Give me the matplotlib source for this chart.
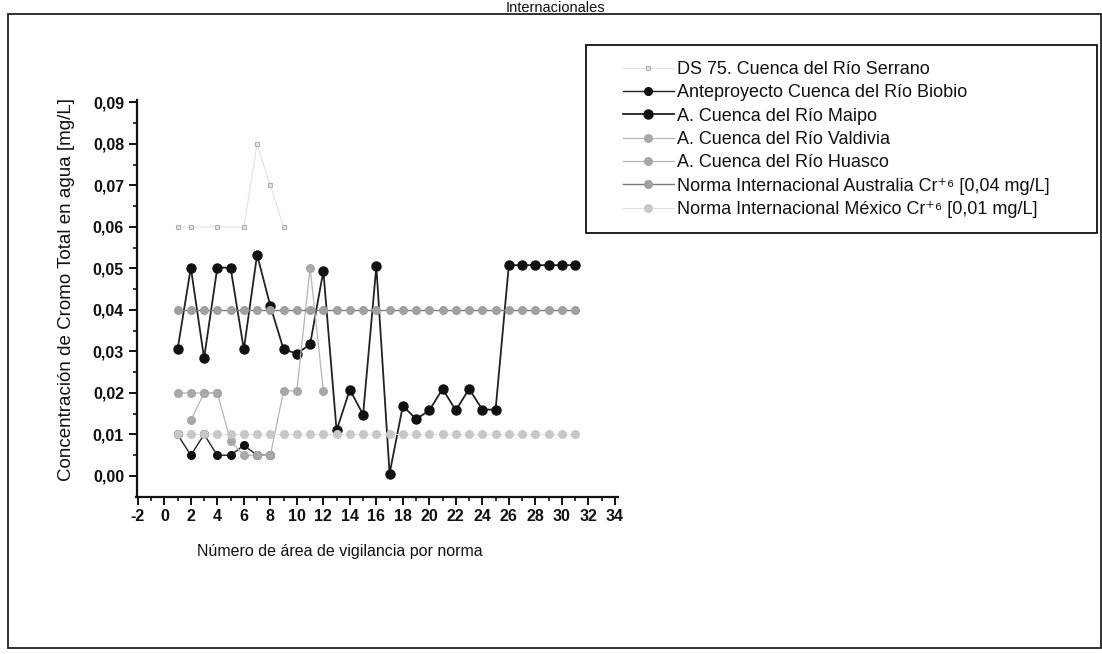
import numpy as np
import matplotlib
matplotlib.use('Agg')
import matplotlib.pyplot as plt
import matplotlib.patches as patches

plt.rcParams['font.family'] = ['Liberation Sans', 'DejaVu Sans']
plt.rcParams['axes.unicode_minus'] = False

# Data
n_all = np.arange(1, 32)

serrano_x = [1, 2, 4, 6, 7, 8, 9]
serrano_y = [0.060, 0.060, 0.060, 0.060, 0.080, 0.070, 0.060]

biobio_x = [1, 2, 3, 4, 5, 6, 7, 8]
biobio_y = [0.010, 0.005, 0.010, 0.005, 0.005, 0.0074, 0.005, 0.005]

maipo_y = [0.0305, 0.0502, 0.0284, 0.0502, 0.0502, 0.0305, 0.0533, 0.041,
           0.0305, 0.0295, 0.0317, 0.0494, 0.0110, 0.0208, 0.0148, 0.0505,
           0.0006, 0.0169, 0.0137, 0.0158, 0.0210, 0.0158, 0.0210, 0.0160,
           0.0160, 0.0508, 0.0508, 0.0508, 0.0508, 0.0508, 0.0508]

valdivia_x = [1, 2, 3, 4, 5, 6, 7, 8, 9, 10, 11, 12]
valdivia_y = [0.020, 0.020, 0.020, 0.020, 0.0084, 0.005, 0.005, 0.005,
              0.0205, 0.0205, 0.0502, 0.0206]

huasco_x = [2, 3, 4]
huasco_y = [0.0134, 0.020, 0.020]

australia_y = [0.040] * 31
mexico_y = [0.010] * 31

labels = ['DS 75. Cuenca del Río Serrano',
          'Anteproyecto Cuenca del Río Biobio',
          'A. Cuenca del Río Maipo',
          'A. Cuenca del Río Valdivia',
          'A. Cuenca del Río Huasco',
          'Norma Internacional Australia Cr\u207a\u2076 [0,04 mg/L]',
          'Norma Internacional México Cr\u207a\u2076 [0,01 mg/L]']

W, H = 1102, 654
fig = plt.figure(figsize=(W / 100, H / 100), dpi=100)

# axes placed in pixel terms of the reference
ax_left, ax_right = 136.5, 617.5
ax_top, ax_bottom = 100.4, 496.75
ax = fig.add_axes([ax_left / W, 1 - ax_bottom / H,
                   (ax_right - ax_left) / W, (ax_bottom - ax_top) / H])

ax.plot(serrano_x, serrano_y, color='#e2e2e2', lw=0.8,
        marker='s', ms=3.5, mfc='#e6e6e6', mec='#b0b0b0', mew=0.8,
        label=labels[0])
ax.plot(biobio_x, biobio_y, color='#222222', lw=1.0,
        marker='o', ms=5.5, mfc='#111111', mec='#111111', label=labels[1])
ax.plot(n_all, maipo_y, color='#222222', lw=1.3,
        marker='o', ms=6.5, mfc='#111111', mec='#111111', label=labels[2])
ax.plot(valdivia_x, valdivia_y, color='#b5b5b5', lw=0.9,
        marker='o', ms=5.5, mfc='#a8a8a8', mec='#a8a8a8', label=labels[3])
ax.plot(huasco_x, huasco_y, color='#b5b5b5', lw=0.9,
        marker='o', ms=5.5, mfc='#a8a8a8', mec='#a8a8a8', label=labels[4])
ax.plot(n_all, australia_y, color='#7a7a7a', lw=1.0,
        marker='o', ms=5.5, mfc='#a0a0a0', mec='#a0a0a0', label=labels[5])
ax.plot(n_all, mexico_y, color='#e0e0e0', lw=0.7,
        marker='o', ms=5.5, mfc='#c8c8c8', mec='#c8c8c8', label=labels[6])

ax.set_xlim(-2.1, 34.2)
ax.set_ylim(-0.005, 0.0905)
ax.set_xticks(np.arange(-2, 35, 2))
ax.set_xticks(np.arange(-1, 35, 2), minor=True)
ax.set_yticks(np.arange(0, 0.091, 0.01))
ax.set_yticks(np.arange(0.005, 0.09, 0.01), minor=True)
ax.set_yticklabels(['{:.2f}'.format(v).replace('.', ',')
                    for v in np.arange(0, 0.091, 0.01)])

for side in ['top', 'right']:
    ax.spines[side].set_visible(False)
for side in ['left', 'bottom']:
    ax.spines[side].set_linewidth(1.6)
    ax.spines[side].set_color('#111111')

ax.tick_params(axis='both', which='major', direction='out', length=6,
               width=1.4, labelsize=11.5, colors='#111111', pad=3)
ax.tick_params(axis='both', which='minor', direction='out', length=3,
               width=1.2, colors='#111111')
for lab in ax.get_xticklabels() + ax.get_yticklabels():
    lab.set_fontweight('bold')

ax.set_ylabel('Concentración de Cromo Total en agua [mg/L]',
              fontsize=13.5, color='#111111')
ax.yaxis.set_label_coords(-0.128, 0.524)
ax.set_xlabel('Número de área de vigilancia por norma',
              fontsize=11.5, color='#111111')
ax.xaxis.set_label_coords(0.423, -0.12)

# legend, frame drawn separately
leg = fig.legend(loc='upper left',
                 bbox_to_anchor=(623 / W, 1 - 61 / H),
                 frameon=False, borderpad=0, borderaxespad=0,
                 fontsize=13, handlelength=2.8, handletextpad=0.2,
                 labelspacing=0.35)
for t in leg.get_texts():
    t.set_color('#111111')

fig.add_artist(patches.Rectangle(
    xy=(586 / W, 1 - 233 / H),
    width=(1097 - 586) / W,
    height=(233 - 45) / H,
    transform=fig.transFigure,
    linewidth=1.3,
    edgecolor='#111111',
    facecolor='none'))

# outer frame of the page
fig.add_artist(patches.Rectangle(
    xy=(8 / W, 1 - 648 / H),
    width=(1101 - 8) / W,
    height=(648 - 14) / H,
    transform=fig.transFigure,
    linewidth=1.3,
    edgecolor='#222222',
    facecolor='none'))

# title at the very top edge
fig.text(555 / W, 1 - 1 / H, 'Internacionales', ha='center', va='top',
         fontsize=10.5, color='#111111')

plt.savefig('out.png', dpi=100)
plt.close(fig)
